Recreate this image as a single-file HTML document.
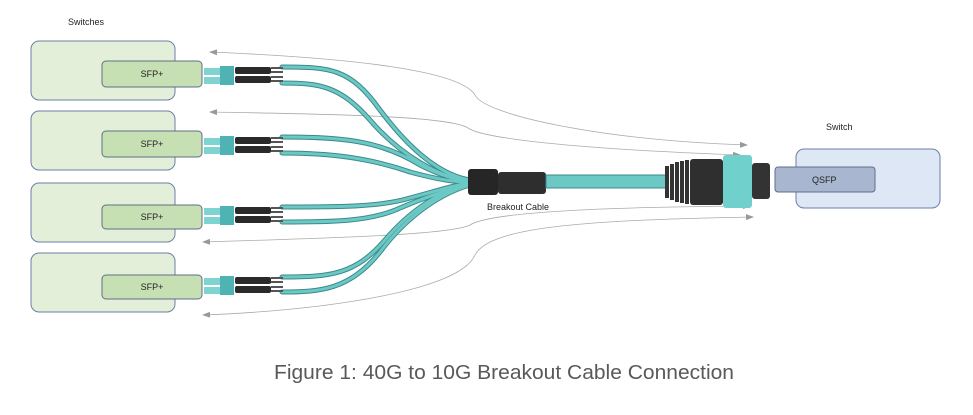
<!DOCTYPE html>
<html><head><meta charset="utf-8"><style>
html,body{margin:0;padding:0;background:#fff;}
svg{display:block;}
text{font-family:"Liberation Sans",sans-serif;}
</style></head><body>
<svg width="973" height="415" viewBox="0 0 973 415" xmlns="http://www.w3.org/2000/svg">
<defs>
<marker id="ar" markerWidth="8" markerHeight="6" refX="7" refY="3" orient="auto" markerUnits="userSpaceOnUse"><path d="M0,0 L8,3 L0,6z" fill="#999"/></marker>
<marker id="al" markerWidth="8" markerHeight="6" refX="1" refY="3" orient="auto" markerUnits="userSpaceOnUse"><path d="M8,0 L0,3 L8,6z" fill="#999"/></marker>
<g id="conn">
<rect x="0" y="-7" width="16" height="7" fill="#7fd3d0"/>
<rect x="0" y="2" width="16" height="7" fill="#7fd3d0"/>
<rect x="16" y="-9" width="14" height="19" fill="#4fb3b3"/>
<rect x="31" y="-8" width="36" height="7" rx="2" fill="#2a2a2a"/>
<rect x="31" y="1" width="36" height="7" rx="2" fill="#2a2a2a"/>
<path d="M67,-7 h12 M67,-3 h12 M67,2 h12 M67,6 h12" stroke="#555" stroke-width="2"/>
</g>
</defs>
<text x="68" y="25" font-size="9" fill="#222">Switches</text>
<g fill="#e4efd9" stroke="#6b7fa8" stroke-width="1">
<rect x="31" y="41" width="144" height="59" rx="8"/>
<rect x="31" y="111" width="144" height="59" rx="8"/>
<rect x="31" y="183" width="144" height="59" rx="8"/>
<rect x="31" y="253" width="144" height="59" rx="8"/>
</g>
<g fill="#c6e0b4" stroke="#5e6f8a" stroke-width="1">
<rect x="102" y="61" width="100" height="26" rx="4"/>
<rect x="102" y="131" width="100" height="26" rx="4"/>
<rect x="102" y="205" width="100" height="24" rx="4"/>
<rect x="102" y="275" width="100" height="24" rx="4"/>
</g>
<g font-size="9" fill="#222" text-anchor="middle">
<text x="152" y="77">SFP+</text><text x="152" y="147">SFP+</text>
<text x="152" y="220">SFP+</text><text x="152" y="290">SFP+</text>
</g>
<g fill="none" stroke="#aaa" stroke-width="0.8">
<path d="M210,52 C350,58 460,70 475,95 C485,115 600,140 747,145" marker-start="url(#al)" marker-end="url(#ar)"/>
<path d="M210,112 C330,114 450,116 468,128 C485,140 600,150 740,155" marker-start="url(#al)" marker-end="url(#ar)"/>
<path d="M203,242 C330,238 450,235 470,225 C490,212 600,207 750,206" marker-start="url(#al)" marker-end="url(#ar)"/>
<path d="M203,315 C330,310 460,290 475,255 C490,225 600,220 753,217" marker-start="url(#al)" marker-end="url(#ar)"/>
</g>
<g fill="none" stroke-linecap="round">
<g stroke="#3c8a8a" stroke-width="5">
<path d="M282,67 C330,67 350,68 380,110 C410,150 440,175 470,180"/>
<path d="M282,83 C320,83 340,86 370,120 C400,155 440,178 470,181"/>
<path d="M282,137 C340,137 380,140 420,165 C440,175 455,180 470,181"/>
<path d="M282,153 C330,153 370,158 410,172 C440,180 455,182 470,182"/>
<path d="M282,207 C340,207 380,207 410,198 C440,190 455,185 470,183"/>
<path d="M282,222 C330,222 370,222 400,208 C430,195 455,188 470,184"/>
<path d="M282,277 C330,277 355,275 385,240 C415,205 445,190 470,184"/>
<path d="M282,292 C320,292 350,290 380,252 C410,212 445,192 470,185"/>
</g>
<g stroke="#6cc8c4" stroke-width="3">
<path d="M282,67 C330,67 350,68 380,110 C410,150 440,175 470,180"/>
<path d="M282,83 C320,83 340,86 370,120 C400,155 440,178 470,181"/>
<path d="M282,137 C340,137 380,140 420,165 C440,175 455,180 470,181"/>
<path d="M282,153 C330,153 370,158 410,172 C440,180 455,182 470,182"/>
<path d="M282,207 C340,207 380,207 410,198 C440,190 455,185 470,183"/>
<path d="M282,222 C330,222 370,222 400,208 C430,195 455,188 470,184"/>
<path d="M282,277 C330,277 355,275 385,240 C415,205 445,190 470,184"/>
<path d="M282,292 C320,292 350,290 380,252 C410,212 445,192 470,185"/>
</g>
</g>
<use href="#conn" x="204" y="75"/>
<use href="#conn" x="204" y="145"/>
<use href="#conn" x="204" y="215"/>
<use href="#conn" x="204" y="285"/>
<rect x="468" y="169" width="30" height="26" rx="3" fill="#262626"/>
<rect x="498" y="172" width="48" height="22" rx="3" fill="#2e2e2e"/>
<rect x="546" y="175" width="122" height="13" fill="#6cc8c4" stroke="#3c8a8a" stroke-width="1"/>
<g fill="#333"><rect x="665" y="166" width="4" height="32"/><rect x="670" y="164" width="4" height="36"/><rect x="675" y="162" width="4" height="40"/><rect x="680" y="161" width="4" height="42"/><rect x="685" y="160" width="4" height="44"/></g>
<rect x="690" y="159" width="33" height="46" rx="3" fill="#2f2f2f"/>
<rect x="723" y="155" width="29" height="53" rx="3" fill="#6fd0cc"/>
<rect x="752" y="163" width="18" height="36" rx="3" fill="#333"/>
<text x="487" y="210" font-size="9" fill="#222">Breakout Cable</text>
<text x="826" y="130" font-size="9" fill="#222">Switch</text>
<rect x="796" y="149" width="144" height="59" rx="8" fill="#dde7f5" stroke="#6b7fa8"/>
<rect x="775" y="167" width="100" height="25" rx="3" fill="#a9b6cf" stroke="#5e6f8a"/>
<text x="812" y="183" font-size="9" fill="#222">QSFP</text>
<text x="274" y="379" font-size="20" fill="#595959" textLength="460" lengthAdjust="spacingAndGlyphs">Figure 1: 40G to 10G Breakout Cable Connection</text>
</svg>
</body></html>
